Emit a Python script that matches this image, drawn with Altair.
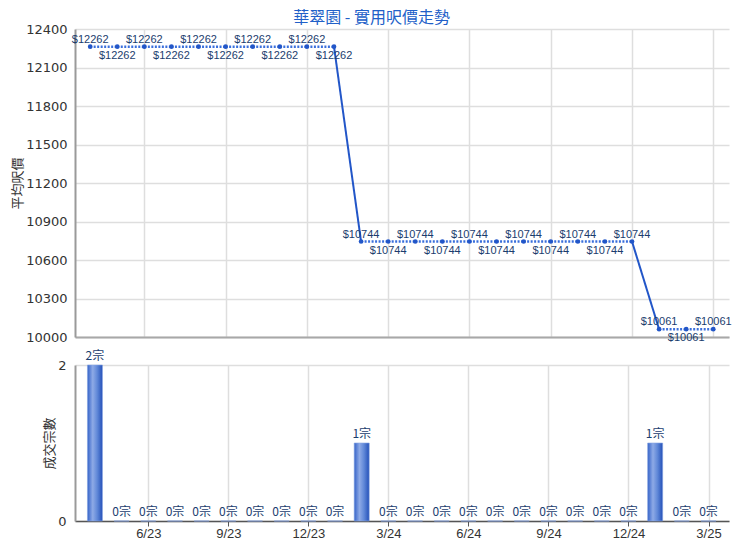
import altair as alt
import pandas as pd

# ---- data ----
months = ["4/23", "5/23", "6/23", "7/23", "8/23", "9/23", "10/23", "11/23", "12/23",
          "1/24", "2/24", "3/24", "4/24", "5/24", "6/24", "7/24", "8/24", "9/24",
          "10/24", "11/24", "12/24", "1/25", "2/25", "3/25"]
avg_price = [12262, 12262, 12262, 12262, 12262, 12262, 12262, 12262, 12262, 12262,
             10744, 10744, 10744, 10744, 10744, 10744, 10744, 10744, 10744, 10744, 10744,
             10061, 10061, 10061]
deal_count = [2, 0, 0, 0, 0, 0, 0, 0, 0, 0,
              1, 0, 0, 0, 0, 0, 0, 0, 0, 0, 0,
              1, 0, 0]
tick_months = ["6/23", "9/23", "12/23", "3/24", "6/24", "9/24", "12/24", "3/25"]
price_ticks = [10000, 10300, 10600, 10900, 11200, 11500, 11800, 12100, 12400]
count_ticks = [0, 1, 2]

# ---- tables ----
idx = list(range(len(months)))
pos = []
k = 0
for j, p in enumerate(avg_price):
    if j > 0 and p != avg_price[j - 1]:
        k = 0
    pos.append("above" if k % 2 == 0 else "below")
    k += 1

df = pd.DataFrame({
    "i": idx,
    "month": months,
    "price": avg_price,
    "count": deal_count,
    "pos": pos,
    "plabel": ["$" + str(p) for p in avg_price],
    "clabel": [str(c) + "宗" for c in deal_count],
})

seg = pd.DataFrame({
    "i": idx[:-1],
    "i2": idx[1:],
    "price": avg_price[:-1],
    "price2": avg_price[1:],
})
seg["kind"] = ["flat" if a == b else "change" for a, b in zip(seg["price"], seg["price2"])]

tick_vals = [months.index(m) for m in tick_months]
label_expr = "[" + ",".join("'" + m + "'" for m in months) + "][datum.value]"

CJK = "Noto Sans CJK TC"
NAVY = "#1b3d6e"
BLUE = "#2256c8"
GRID = "#dedede"
W = 654

xscale = alt.Scale(domain=[-0.56, 23.58], nice=False, zero=False)

x_top = alt.X("i:Q", scale=xscale,
              axis=alt.Axis(values=tick_vals, labels=False, ticks=False, title=None,
                            grid=True, gridColor=GRID, gridWidth=1.5,
                            domainColor="#a8a8a8", domainWidth=2))
y_top = alt.Y("price:Q", scale=alt.Scale(domain=[10000, 12400], nice=False, zero=False),
              axis=alt.Axis(values=price_ticks, format="d", title="平均呎價", titleFont=CJK,
                            titleFontSize=13, titleFontWeight="normal", titleColor="#333",
                            titlePadding=1,
                            labelFont="DejaVu Sans", labelFontSize=13, labelColor="#333",
                            labelPadding=8, ticks=False, grid=True, gridColor=GRID,
                            gridWidth=1.5, domainColor="#9a9a9a", domainWidth=2))

flat = alt.Chart(seg).transform_filter(alt.datum.kind == "flat").mark_rule(
    color="#3a6fdc", strokeWidth=2.5, strokeDash=[2, 1.5]
).encode(x=x_top, y=y_top, x2="i2:Q", y2="price2:Q")

change = alt.Chart(seg).transform_filter(alt.datum.kind == "change").mark_rule(
    color=BLUE, strokeWidth=2
).encode(x=x_top, y=y_top, x2="i2:Q", y2="price2:Q")

pts = alt.Chart(df).mark_point(filled=True, size=22, color=BLUE, opacity=1).encode(
    x=x_top, y=y_top)

lab_above = alt.Chart(df).transform_filter(alt.datum.pos == "above").mark_text(
    baseline="bottom", dy=-2, font="Liberation Sans", fontSize=11, color=NAVY
).encode(x=x_top, y=y_top, text="plabel:N")

lab_below = alt.Chart(df).transform_filter(alt.datum.pos == "below").mark_text(
    baseline="top", dy=3, font="Liberation Sans", fontSize=11, color=NAVY
).encode(x=x_top, y=y_top, text="plabel:N")

top = alt.layer(flat, change, pts, lab_above, lab_below).properties(width=W, height=308)

# ---- bottom panel ----
x_bot = alt.X("i:Q", scale=xscale,
              axis=alt.Axis(values=tick_vals, labelExpr=label_expr, title=None,
                            ticks=True, tickSize=5, tickColor="#555", tickWidth=1,
                            labelFont="Liberation Sans", labelFontSize=13, labelColor="#333",
                            labelPadding=1, grid=True, gridColor=GRID, gridWidth=1.5,
                            domainColor="#555", domainWidth=1.5))
y_bot = alt.Y("count:Q", scale=alt.Scale(domain=[0, 2], nice=False),
              axis=alt.Axis(values=count_ticks, format="d", title="成交宗數", titleFont=CJK,
                            titleFontSize=13, titleFontWeight="normal", titleColor="#333",
                            titlePadding=1,
                            labelFont="DejaVu Sans", labelFontSize=13, labelColor="#333",
                            labelPadding=9, ticks=False, grid=True, gridColor=GRID,
                            gridWidth=1.5, domainColor="#9a9a9a", domainWidth=2))

grad = alt.LinearGradient(
    gradient="linear", x1=0, x2=1, y1=0, y2=0,
    stops=[alt.GradientStop(color="#3563c8", offset=0),
           alt.GradientStop(color="#8eaae6", offset=0.35),
           alt.GradientStop(color="#6088d8", offset=0.65),
           alt.GradientStop(color="#2450b8", offset=1)])

bars = alt.Chart(df).mark_bar(size=15, color=grad, stroke="#86a4e2", strokeWidth=0.6).encode(
    x=x_bot, y=y_bot)

bar_lab = alt.Chart(df).mark_text(
    baseline="bottom", dy=-2, font=CJK, fontSize=12, color=NAVY
).encode(x=x_bot, y=y_bot, text="clabel:N")

bottom = alt.layer(bars, bar_lab).properties(width=W, height=156)

chart = alt.vconcat(top, bottom, spacing=28, bounds="flush").properties(
    title=alt.TitleParams("華翠園 - 實用呎價走勢", font=CJK, fontSize=16,
                          fontWeight="normal", color="#2160c8", anchor="middle",
                          frame="bounds", offset=-3),
    padding={"left": 3, "top": 2, "right": 0, "bottom": 0},
).configure_view(stroke=None)

chart.save("out.html", embed_options={"renderer": "svg", "actions": False})
